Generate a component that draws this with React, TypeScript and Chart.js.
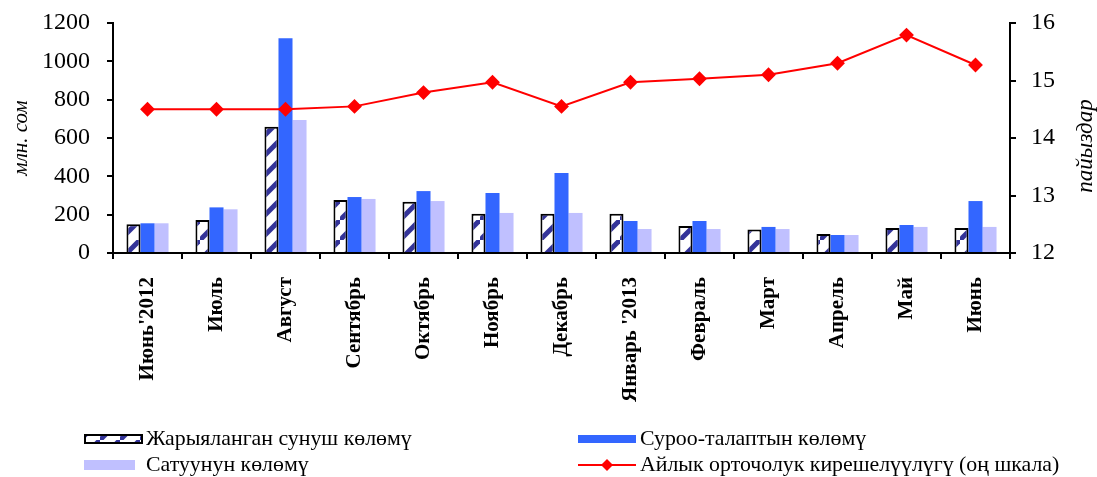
import React, { useEffect, useRef } from "react";
import { Chart, registerables } from "chart.js";

Chart.register(...registerables);

const categories = ["Июнь'2012", "Июль", "Август", "Сентябрь", "Октябрь", "Ноябрь", "Декабрь", "Январь '2013", "Февраль", "Март", "Апрель", "Май", "Июнь"];
const offered = [150, 172, 659, 276, 268, 205, 205, 205, 141, 122, 99, 130, 130];
const demand = [155, 238, 1120, 292, 323, 313, 417, 167, 167, 136, 94, 146, 271];
const sold = [155, 228, 694, 282, 271, 209, 209, 125, 125, 125, 94, 136, 136];
const yieldPct = [14.5, 14.5, 14.5, 14.55, 14.79, 14.97, 14.55, 14.97, 15.03, 15.1, 15.3, 15.79, 15.27];

const seriesNames = [
  "Жарыяланган сунуш көлөмү",
  "Суроо-талаптын көлөмү",
  "Сатуунун көлөмү",
  "Айлык орточолук кирешелүүлүгү (оң шкала)",
];
const leftTitle = "млн. сом";
const rightTitle = "пайыздар";

const FONT = "'Liberation Serif', 'Times New Roman', serif";

function makeHatch(): CanvasPattern | string {
  const c = document.createElement("canvas");
  c.width = 20;
  c.height = 20;
  const g = c.getContext("2d");
  if (!g) return "#ffffff";
  g.fillStyle = "#ffffff";
  g.fillRect(0, 0, 20, 20);
  g.strokeStyle = "#333399";
  g.lineWidth = 5;
  g.beginPath();
  g.moveTo(-5, 25);
  g.lineTo(25, -5);
  g.stroke();
  const ctx2 = document.createElement("canvas").getContext("2d");
  return (ctx2 && ctx2.createPattern(c, "repeat")) || "#ffffff";
}

const zeroPad = (s: any) => {
  s.paddingTop = 0;
  s.paddingBottom = 0;
  s.paddingLeft = 0;
  s.paddingRight = 0;
};

export default function App() {
  const ref = useRef<HTMLCanvasElement | null>(null);

  useEffect(() => {
    document.body.style.margin = "0";
    const canvas = ref.current;
    if (!canvas) return;
    const hatch = makeHatch();

    const extras = {
      id: "extras",
      afterDraw(chart: any) {
        const ctx = chart.ctx;
        ctx.save();
        // right axis title, bottom-to-top
        ctx.font = `italic 23px ${FONT}`;
        ctx.fillStyle = "#000";
        ctx.textAlign = "center";
        ctx.textBaseline = "middle";
        ctx.translate(1086, 146);
        ctx.rotate(-Math.PI / 2);
        ctx.fillText(rightTitle, 0, 0);
        ctx.restore();

        // legend
        ctx.save();
        ctx.font = `21px ${FONT}`;
        ctx.textAlign = "left";
        ctx.textBaseline = "middle";
        const r1 = 439, r2 = 465;
        const drawText = (t: string, x: number, y: number) => {
          ctx.save();
          ctx.translate(x, y);
          ctx.scale(1.04, 1);
          ctx.fillStyle = "#000";
          ctx.fillText(t, 0, 0);
          ctx.restore();
        };
        // item 1 hatched
        ctx.fillStyle = hatch as any;
        ctx.fillRect(85, r1 - 4, 57, 8);
        ctx.strokeStyle = "#000";
        ctx.lineWidth = 2;
        ctx.strokeRect(85, r1 - 4, 57, 8);
        drawText(seriesNames[0], 146, r1);
        // item 2 blue
        ctx.fillStyle = "#3366FF";
        ctx.fillRect(578, r1 - 4, 58, 8);
        drawText(seriesNames[1], 640, r1);
        // item 3 lavender
        ctx.fillStyle = "#C0C0FF";
        ctx.fillRect(84, r2 - 5, 51, 10);
        drawText(seriesNames[2], 146, r2);
        // item 4 line
        ctx.strokeStyle = "#FF0000";
        ctx.lineWidth = 2;
        ctx.beginPath();
        ctx.moveTo(578, r2);
        ctx.lineTo(636, r2);
        ctx.stroke();
        ctx.fillStyle = "#FF0000";
        ctx.beginPath();
        ctx.moveTo(607, r2 - 6);
        ctx.lineTo(613, r2);
        ctx.lineTo(607, r2 + 6);
        ctx.lineTo(601, r2);
        ctx.closePath();
        ctx.fill();
        drawText(seriesNames[3], 640, r2);
        ctx.restore();
      },
    };

    const chart = new Chart(canvas, {
      type: "bar",
      data: {
        labels: categories,
        datasets: [
          {
            type: "line",
            label: seriesNames[3],
            data: yieldPct,
            yAxisID: "y1",
            borderColor: "#FF0000",
            backgroundColor: "#FF0000",
            borderWidth: 2,
            pointStyle: "rectRot",
            pointRadius: 6,
            pointBackgroundColor: "#FF0000",
            pointBorderColor: "#FF0000",
            order: 0,
          } as any,
          {
            label: seriesNames[0],
            data: offered,
            yAxisID: "y",
            backgroundColor: hatch as any,
            borderColor: "#000000",
            borderWidth: { top: 2, left: 2, right: 2, bottom: 0 } as any,
            order: 1,
          },
          {
            label: seriesNames[1],
            data: demand,
            yAxisID: "y",
            backgroundColor: "#3366FF",
            borderWidth: 0,
            order: 1,
          },
          {
            label: seriesNames[2],
            data: sold,
            yAxisID: "y",
            backgroundColor: "#C0C0FF",
            borderWidth: 0,
            order: 1,
          },
        ],
      },
      options: {
        animation: false,
        responsive: false,
        maintainAspectRatio: false,
        datasets: { bar: { categoryPercentage: 0.61, barPercentage: 1 } },
        layout: { padding: { top: 23, left: 0, right: 0, bottom: 0 } },
        plugins: { legend: { display: false }, tooltip: { enabled: false } },
        scales: {
          x: {
            grid: { display: true, drawOnChartArea: false, drawTicks: true, tickLength: 6, color: "#000", lineWidth: 2 },
            border: { display: true, color: "#000", width: 2 },
            ticks: {
              color: "#000",
              font: { family: FONT, size: 21, weight: "bold" },
              maxRotation: 90,
              minRotation: 90,
              autoSkip: false,
              padding: 18,
            },
            afterFit: (s: any) => { s.height = 224; zeroPad(s); },
          },
          y: {
            position: "left",
            min: 0,
            max: 1200,
            grid: { display: true, drawOnChartArea: false, drawTicks: true, tickLength: 6, color: "#000", lineWidth: 2 },
            border: { display: true, color: "#000", width: 2 },
            ticks: { stepSize: 200, color: "#000", font: { family: FONT, size: 24 }, padding: 17, callback: (v: any) => String(v) },
            title: { display: true, text: leftTitle, color: "#000", font: { family: FONT, size: 21, style: "italic" }, padding: { top: 9, bottom: 0 } },
            afterFit: (s: any) => { s.width = 113; zeroPad(s); },
          },
          y1: {
            position: "right",
            min: 12,
            max: 16,
            grid: { display: true, drawOnChartArea: false, drawTicks: true, tickLength: 6, color: "#000", lineWidth: 2 },
            border: { display: true, color: "#000", width: 2 },
            ticks: { stepSize: 1, color: "#000", font: { family: FONT, size: 24 }, padding: 15, callback: (v: any) => String(v) },
            afterFit: (s: any) => { s.width = 87; zeroPad(s); },
          },
        },
      },
      plugins: [extras],
    });

    return () => chart.destroy();
  }, []);

  return (
    <div style={{ width: 1097, height: 477, background: "#fff" }}>
      <canvas ref={ref} width={1097} height={477} style={{ display: "block" }} />
    </div>
  );
}
